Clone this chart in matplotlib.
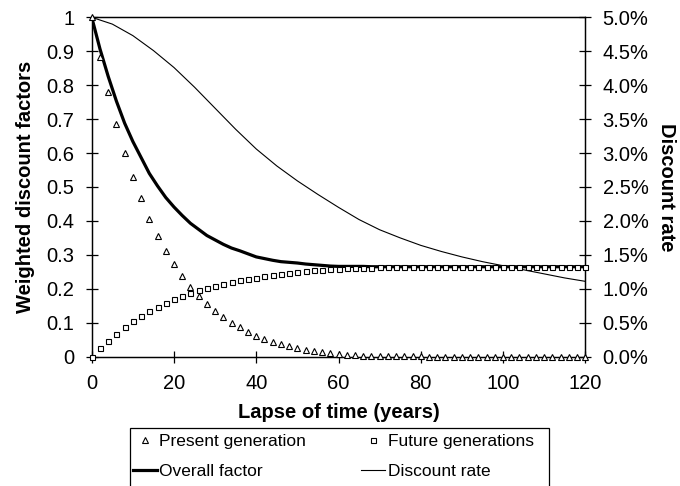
import matplotlib
matplotlib.use("Agg")
import matplotlib.pyplot as plt
from matplotlib.lines import Line2D
from matplotlib.patches import Rectangle
from matplotlib.ticker import FuncFormatter

plt.rcParams['font.family'] = ['Liberation Sans', 'DejaVu Sans']

# years, every 2 years from 0 to 120
years = list(range(0, 121, 2))

present = [1.000, 0.882, 0.779, 0.685, 0.601, 0.530, 0.467, 0.406, 0.356, 0.311,
           0.272, 0.237, 0.205, 0.179, 0.155, 0.135, 0.116, 0.099, 0.087, 0.073,
           0.061, 0.051, 0.043, 0.036, 0.031, 0.026, 0.021, 0.017, 0.013, 0.010,
           0.007, 0.005, 0.004, 0.003, 0.002, 0.002, 0.001, 0.001, 0.001, 0.001,
           0.001, 0.000, 0.000, 0.000, 0.000, 0.000, 0.000, 0.000, 0.000, 0.000,
           0.000, 0.000, 0.000, 0.000, 0.000, 0.000, 0.000, 0.000, 0.000, 0.000,
           0.000]

future = [0.000, 0.025, 0.047, 0.068, 0.087, 0.104, 0.120, 0.134, 0.147, 0.158,
          0.169, 0.179, 0.188, 0.196, 0.202, 0.209, 0.215, 0.221, 0.225, 0.230,
          0.233, 0.238, 0.241, 0.244, 0.248, 0.250, 0.252, 0.254, 0.256, 0.257,
          0.259, 0.260, 0.261, 0.262, 0.262, 0.263, 0.263, 0.264, 0.264, 0.264,
          0.265, 0.265, 0.265, 0.265, 0.265, 0.265, 0.265, 0.265, 0.265, 0.265,
          0.265, 0.265, 0.265, 0.265, 0.265, 0.265, 0.265, 0.265, 0.265, 0.265,
          0.265]

overall = [1.000, 0.907, 0.826, 0.753, 0.688, 0.634, 0.587, 0.540, 0.503, 0.469,
           0.441, 0.416, 0.393, 0.375, 0.357, 0.344, 0.331, 0.320, 0.312, 0.303,
           0.294, 0.289, 0.284, 0.280, 0.278, 0.276, 0.273, 0.271, 0.269, 0.267,
           0.266, 0.266, 0.266, 0.266, 0.265, 0.265, 0.265, 0.265, 0.265, 0.265,
           0.265, 0.265, 0.265, 0.265, 0.265, 0.265, 0.265, 0.265, 0.265, 0.265,
           0.265, 0.265, 0.265, 0.265, 0.265, 0.265, 0.265, 0.265, 0.265, 0.265,
           0.265]

# discount rate, every 5 years
rate_years = list(range(0, 121, 5))
rate = [0.0500, 0.0490, 0.0473, 0.0451, 0.0426, 0.0397, 0.0366, 0.0335, 0.0306,
        0.0281, 0.0259, 0.0239, 0.0220, 0.0202, 0.0187, 0.0175, 0.0164, 0.0155,
        0.0147, 0.0140, 0.0134, 0.0128, 0.0122, 0.0116, 0.0111]

fig = plt.figure(figsize=(6.8, 4.86), dpi=100)
ax = fig.add_axes([0.1349, 0.2661, 0.7258, 0.6983])
ax2 = ax.twinx()

ax.plot(years, overall, color='black', lw=2.3, zorder=2)
ax.plot(years, present, ls='none', marker='^', ms=3.8, mfc='white', mec='black',
        mew=0.8, clip_on=False, zorder=4)
ax.plot(years, future, ls='none', marker='s', ms=3.6, mfc='white', mec='black',
        mew=0.8, clip_on=False, zorder=4)
ax2.plot(rate_years, rate, color='black', lw=0.8)

ax.set_xlim(0, 120)
ax.set_ylim(0, 1)
ax2.set_ylim(0, 0.05)
ax.set_xticks(range(0, 121, 20))
ax.set_yticks([i / 10 for i in range(11)])
ax.set_yticklabels(['0', '0.1', '0.2', '0.3', '0.4', '0.5', '0.6', '0.7', '0.8', '0.9', '1'])
ax2.set_yticks([i * 0.005 for i in range(11)])
ax2.yaxis.set_major_formatter(FuncFormatter(lambda v, p: f"{v * 100:.1f}%"))

ax.set_zorder(ax2.get_zorder() + 1)
ax.patch.set_visible(False)

for a in (ax, ax2):
    for s in a.spines.values():
        s.set_linewidth(0.9)
    a.tick_params(direction='inout', length=9, width=0.9, labelsize=14.5, pad=8)
ax.tick_params(axis='x', pad=8)

ax.set_xlabel('Lapse of time (years)', fontsize=14.5, fontweight='bold', labelpad=7)
ax.set_ylabel('Weighted discount factors', fontsize=14.5, fontweight='bold', labelpad=8)
ax2.set_ylabel('Discount rate', fontsize=14.5, fontweight='bold', rotation=-90, labelpad=20)

handles = [
    Line2D([], [], ls='none', marker='^', ms=3.8, mfc='white', mec='black', mew=0.8),
    Line2D([], [], color='black', lw=2.3),
    Line2D([], [], ls='none', marker='s', ms=3.6, mfc='white', mec='black', mew=0.8),
    Line2D([], [], color='black', lw=0.8),
]
labels = ['Present generation', 'Overall factor', 'Future generations', 'Discount rate']
fig.legend(handles, labels, ncol=2, frameon=False, loc='upper left',
           bbox_to_anchor=(133 / 680, 1 - 434 / 486), borderaxespad=0, borderpad=0,
           fontsize=12.5, handlelength=1.38, handletextpad=0.12,
           columnspacing=3.2, labelspacing=0.85)
fig.patches.append(Rectangle((130 / 680, -0.02), (549 - 130) / 680, 0.02 + 58.5 / 486,
                             transform=fig.transFigure, fill=False,
                             edgecolor='black', lw=0.9))

fig.savefig('out.png', dpi=100)
